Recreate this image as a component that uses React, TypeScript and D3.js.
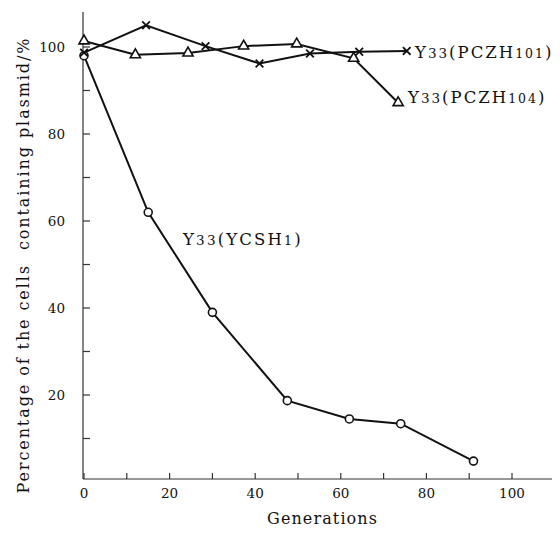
import { useEffect, useRef } from "react";
import * as d3 from "d3";

const generationsYCSH1 = [0, 15, 30, 47.5, 62, 74, 91];
const percentYCSH1 = [98, 62, 39, 18.7, 14.5, 13.4, 4.8];

const generationsPCZH104 = [0, 12, 24.3, 37.3, 49.7, 63, 73.4];
const percentPCZH104 = [101.4, 98.2, 98.6, 100.2, 100.7, 97.4, 87.2];

const generationsPCZH101 = [0, 14.5, 28.4, 41, 52.8, 64.3, 75.4];
const percentPCZH101 = [98.7, 105, 100.2, 96.2, 98.5, 98.9, 99.1];

const xTickLabels = [0, 20, 40, 60, 80, 100];
const yTickLabels = [20, 40, 60, 80, 100];

const W = 560;
const H = 537;
const FONT = "'DejaVu Serif', serif";

export default function App() {
  const svgRef = useRef<SVGSVGElement>(null);

  useEffect(() => {
    const svg = d3.select(svgRef.current);
    svg.selectAll("*").remove();

    const x = d3.scaleLinear().domain([0, 100]).range([84, 512]);
    const y = d3.scaleLinear().domain([0, 100]).range([482, 47]);
    const axisY = 479;
    const axisX = 83;

    const g = svg.append("g").style("font-family", FONT).attr("fill", "#111");

    // axes lines
    g.append("line")
      .attr("x1", axisX).attr("x2", axisX)
      .attr("y1", 12).attr("y2", axisY)
      .attr("stroke", "#333").attr("stroke-width", 1.2);
    g.append("line")
      .attr("x1", axisX).attr("x2", 558)
      .attr("y1", axisY).attr("y2", axisY)
      .attr("stroke", "#333").attr("stroke-width", 1.2);

    // x ticks, pointing inward
    const xt = d3.range(0, 111, 10);
    g.selectAll(".xtick").data(xt).enter().append("line")
      .attr("x1", (d) => x(d)).attr("x2", (d) => x(d))
      .attr("y1", axisY).attr("y2", axisY - 6)
      .attr("stroke", "#333").attr("stroke-width", 1.2);
    g.selectAll(".xlab").data(xTickLabels).enter().append("text")
      .attr("x", (d) => x(d)).attr("y", 498)
      .attr("text-anchor", "middle").attr("font-size", 13.5)
      .text((d) => d);

    // y ticks
    const yt = d3.range(10, 101, 10);
    g.selectAll(".ytick").data(yt).enter().append("line")
      .attr("x1", axisX).attr("x2", axisX + 7)
      .attr("y1", (d) => y(d)).attr("y2", (d) => y(d))
      .attr("stroke", "#333").attr("stroke-width", 1.2);
    g.selectAll(".ylab").data(yTickLabels).enter().append("text")
      .attr("x", 65).attr("y", (d) => y(d) + 5)
      .attr("text-anchor", "end").attr("font-size", 13.5)
      .text((d) => d);

    // axis titles
    g.append("text")
      .attr("x", 267).attr("y", 524)
      .attr("font-size", 16)
      .attr("textLength", 110).attr("lengthAdjust", "spacing")
      .text("Generations");
    g.append("text")
      .attr("transform", "translate(29,266) rotate(-90)")
      .attr("text-anchor", "middle").attr("font-size", 16)
      .attr("textLength", 455).attr("lengthAdjust", "spacing")
      .attr("xml:space", "preserve")
      .text("Percentage of the cells  containing plasmid/%");

    const line = d3.line<[number, number]>()
      .x((d) => x(d[0])).y((d) => y(d[1]));

    const toPts = (xs: number[], ys: number[]) =>
      xs.map((v, i) => [v, ys[i]] as [number, number]);

    const ycsh = toPts(generationsYCSH1, percentYCSH1);
    const p104 = toPts(generationsPCZH104, percentPCZH104);
    const p101 = toPts(generationsPCZH101, percentPCZH101);

    [ycsh, p104, p101].forEach((pts) => {
      g.append("path").datum(pts)
        .attr("d", line)
        .attr("fill", "none").attr("stroke", "#111").attr("stroke-width", 2);
    });

    // circles
    g.selectAll(".circ").data(ycsh).enter().append("circle")
      .attr("cx", (d) => x(d[0])).attr("cy", (d) => y(d[1]))
      .attr("r", 4).attr("fill", "#fff")
      .attr("stroke", "#111").attr("stroke-width", 1.6);

    // triangles
    const tri = d3.symbol().type(d3.symbolTriangle).size(45);
    g.selectAll(".tri").data(p104).enter().append("path")
      .attr("d", tri)
      .attr("transform", (d) => `translate(${x(d[0])},${y(d[1])})`)
      .attr("fill", "#fff").attr("stroke", "#111").attr("stroke-width", 1.6);

    // crosses
    const cross = d3.symbol().type(d3.symbolX).size(40);
    g.selectAll(".cross").data(p101).enter().append("path")
      .attr("d", cross)
      .attr("transform", (d) => `translate(${x(d[0])},${y(d[1])})`)
      .attr("fill", "none").attr("stroke", "#111").attr("stroke-width", 1.8);

    // series labels
    const label = (xp: number, yp: number, sub: string, num: string, ls: number) => {
      const t = g.append("text").attr("x", xp).attr("y", yp)
        .attr("font-size", 16.5).attr("letter-spacing", ls);
      t.append("tspan").text("Y");
      t.append("tspan").attr("font-size", 13.5).text("33");
      t.append("tspan").text("(" + sub);
      t.append("tspan").attr("font-size", 12.5).text(num);
      t.append("tspan").text(")");
    };
    label(415, 58, "PCZH", "101", 2);
    label(408, 103, "PCZH", "104", 2);
    label(183, 245, "YCSH", "1", 2.2);
  }, []);

  return (
    <div style={{ margin: -8 }}>
      <svg ref={svgRef} width={W} height={H} style={{ display: "block", background: "#fff" }} />
    </div>
  );
}
